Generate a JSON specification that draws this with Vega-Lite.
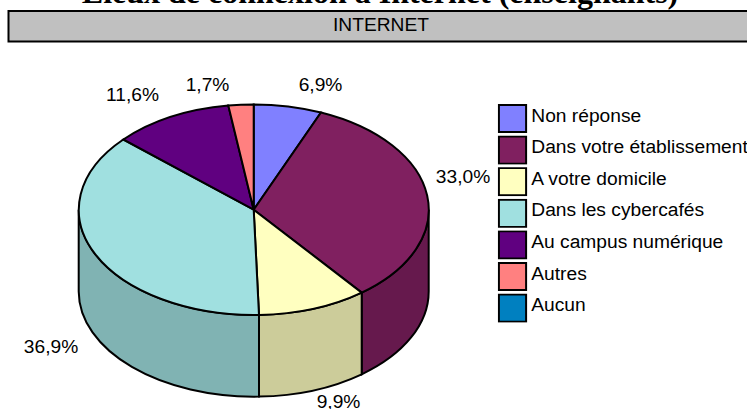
{
  "$schema": "https://vega.github.io/schema/vega-lite/v6.json",
  "width": 747,
  "height": 409,
  "padding": 0,
  "autosize": {"type": "none"},
  "background": "white",
  "view": {"stroke": null},
  "title": {"text": "Lieux de connexion à Internet (enseignants)", "font": "Liberation Serif", "fontSize": 32, "fontWeight": "bold", "color": "black", "anchor": "middle", "frame": "group", "offset": -10, "dx": 6.5},
  "data": {"values": [
    {"lieu": "Non réponse", "part": 6.9, "libelle": "6,9%"},
    {"lieu": "Dans votre établissement", "part": 33.0, "libelle": "33,0%"},
    {"lieu": "A votre domicile", "part": 9.9, "libelle": "9,9%"},
    {"lieu": "Dans les cybercafés", "part": 36.9, "libelle": "36,9%"},
    {"lieu": "Au campus numérique", "part": 11.6, "libelle": "11,6%"},
    {"lieu": "Autres", "part": 1.7, "libelle": "1,7%"},
    {"lieu": "Aucun", "part": 0, "libelle": "0,0%"}
  ]},
  "layer": [
    {
      "data": {"values": [{"bandeau": "INTERNET"}]},
      "mark": {"type": "rect", "fill": "#C0C0C0", "stroke": "black", "strokeWidth": 2},
      "encoding": {
        "x": {"datum": 0, "type": "quantitative", "scale": {"domain": [0, 100], "range": [8.5, 760]}, "axis": null},
        "x2": {"datum": 100},
        "y": {"field": "bandeau", "type": "nominal", "scale": {"range": [11, 41.5], "paddingInner": 0, "paddingOuter": 0}, "axis": null}
      }
    },
    {
      "data": {"values": [{"bandeau": "INTERNET"}]},
      "mark": {"type": "text", "font": "Liberation Sans", "fontSize": 19.2, "color": "black", "baseline": "middle"},
      "encoding": {
        "x": {"datum": 50, "type": "quantitative", "scale": {"domain": [0, 100], "range": [8, 754]}, "axis": null},
        "y": {"field": "bandeau", "type": "nominal", "scale": {"range": [9, 40], "paddingInner": 0, "paddingOuter": 0}, "axis": null},
        "text": {"field": "bandeau"}
      }
    },
    {
      "transform": [{"filter": "indexof(['Dans votre établissement','A votre domicile','Dans les cybercafés'], datum.lieu) >= 0"}],
      "mark": {"type": "point", "filled": true, "size": 4, "opacity": 1, "xOffset": -119.8, "yOffset": 5.2, "stroke": "black", "strokeWidth": 2},
      "encoding": {
        "fill": {"field": "lieu", "type": "nominal", "legend": null, "scale": {"domain": ["Dans votre établissement", "A votre domicile", "Dans les cybercafés"], "range": ["#66194D", "#CCCC9A", "#80B3B3"]}},
        "shape": {"field": "lieu", "type": "nominal", "legend": null, "scale": {"domain": ["Dans votre établissement", "A votre domicile", "Dans les cybercafés"], "range": [
          "M175,0A175,105.3 0 0 1 108,82.9L108,164.6A175,105.3 0 0 0 175,81.7Z",
          "M108,82.9A175,105.3 0 0 1 5.3,105.2L5.3,186.9A175,105.3 0 0 0 108,164.6Z",
          "M5.3,105.2A175,105.3 0 0 1 -175,0L-175,81.7A175,105.3 0 0 0 5.3,186.9Z"
        ]}}
      }
    },
    {
      "mark": {"type": "point", "filled": true, "size": 4, "opacity": 1, "xOffset": -119.8, "yOffset": 5.2, "stroke": "black", "strokeWidth": 2},
      "encoding": {
        "color": {"field": "lieu", "type": "nominal", "legend": null,
          "scale": {"domain": ["Non réponse", "Dans votre établissement", "A votre domicile", "Dans les cybercafés", "Au campus numérique", "Autres", "Aucun"], "range": ["#8080FF", "#802060", "#FFFFC0", "#A0E0E0", "#600080", "#FF8080", "#0080C0"]}
        },
        "shape": {"field": "lieu", "type": "nominal", "legend": null, "scale": {"domain": ["Non réponse", "Dans votre établissement", "A votre domicile", "Dans les cybercafés", "Au campus numérique", "Autres", "Aucun"], "range": [
          "M0,0L0,-105.3A175,105.3 0 0 1 67.3,-97.2Z",
          "M0,0L67.3,-97.2A175,105.3 0 0 1 108,82.9Z",
          "M0,0L108,82.9A175,105.3 0 0 1 5.3,105.2Z",
          "M0,0L5.3,105.2A175,105.3 0 0 1 -130.4,-70.2Z",
          "M0,0L-130.4,-70.2A175,105.3 0 0 1 -25.4,-104.2Z",
          "M0,0L-25.4,-104.2A175,105.3 0 0 1 0,-105.3Z",
          "M0,0Z"
        ]}}
      }
    },
    {
      "mark": {"type": "square", "size": 0, "opacity": 1},
      "encoding": {
        "color": {"field": "lieu", "type": "nominal", "sort": null,
          "scale": {"domain": ["Non réponse", "Dans votre établissement", "A votre domicile", "Dans les cybercafés", "Au campus numérique", "Autres", "Aucun"], "range": ["#8080FF", "#802060", "#FFFFC0", "#A0E0E0", "#600080", "#FF8080", "#0080C0"]},
          "legend": {"title": null, "orient": "none", "legendX": 497.5, "legendY": 104, "symbolType": "square", "symbolSize": 740, "symbolStrokeColor": "black", "symbolStrokeWidth": 2, "symbolOpacity": 1, "labelFont": "Liberation Sans", "labelFontSize": 19.2, "labelColor": "black", "labelLimit": 400, "labelOffset": 3.8, "rowPadding": 2.6, "padding": 0, "labelOverlap": false, "clipHeight": 29,
            "encode": {"symbols": {"update": {"stroke": {"value": "black"}, "strokeWidth": {"value": 2}}}, "labels": {"update": {"dy": {"value": -3}}}}}
        }
      }
    },
    {
      "transform": [{"filter": "datum.part > 0"}],
      "mark": {"type": "text", "font": "Liberation Sans", "fontSize": 19.2, "color": "black", "baseline": "middle", "align": "center"},
      "encoding": {
        "x": {"field": "part", "type": "quantitative", "axis": null, "scale": {"domain": [1.7, 6.9, 9.9, 11.6, 33, 36.9], "range": [207.5, 320.5, 338.5, 132.5, 463, 51], "zero": false, "nice": false}},
        "y": {"field": "part", "type": "quantitative", "axis": null, "scale": {"domain": [1.7, 6.9, 9.9, 11.6, 33, 36.9], "range": [85, 85, 402, 94.5, 176.7, 347], "zero": false, "nice": false}},
        "text": {"field": "libelle"}
      }
    }
  ],
  "resolve": {"scale": {"x": "independent", "y": "independent", "shape": "independent", "color": "independent", "fill": "independent"}}
}
